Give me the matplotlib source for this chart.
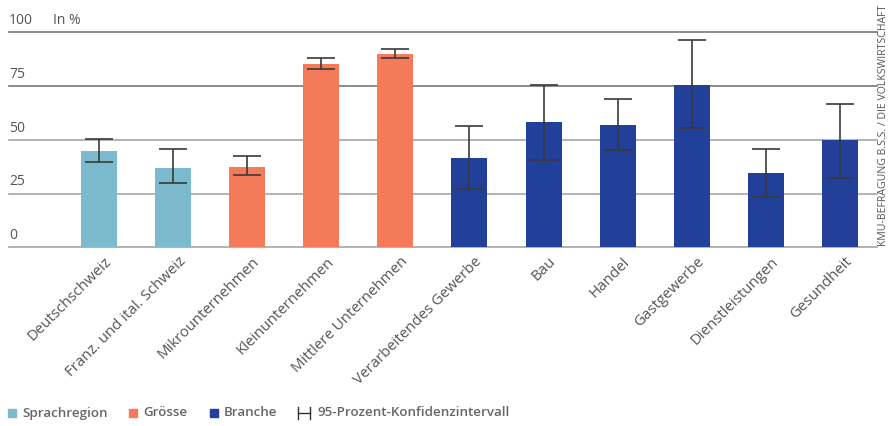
import matplotlib
matplotlib.use("Agg")
import matplotlib.pyplot as plt
import matplotlib.transforms as mtrans
from matplotlib.patches import Rectangle
from matplotlib.lines import Line2D

categories = ["Deutschschweiz", "Franz. und ital. Schweiz", "Mikrounternehmen",
              "Kleinunternehmen", "Mittlere Unternehmen", "Verarbeitendes Gewerbe",
              "Bau", "Handel", "Gastgewerbe", "Dienstleistungen", "Gesundheit"]
values = [45.0, 37.0, 37.5, 85.2, 89.9, 41.7, 58.1, 56.7, 75.4, 34.7, 49.7]
ci_low = [39.7, 29.9, 33.5, 82.7, 87.9, 27.2, 40.6, 45.3, 55.7, 23.6, 32.4]
ci_high = [50.3, 45.6, 42.5, 88.0, 92.2, 56.4, 75.5, 69.0, 96.3, 45.6, 66.8]
groups = ["Sprachregion", "Sprachregion", "Grösse", "Grösse", "Grösse",
          "Branche", "Branche", "Branche", "Branche", "Branche", "Branche"]
group_names = ["Sprachregion", "Grösse", "Branche"]
yticks = [0, 25, 50, 75, 100]

colors = {"Sprachregion": "#7bbbcd", "Grösse": "#f47a5a", "Branche": "#223f99"}
text_col = "#555555"
plt.rcParams['font.family'] = ['Open Sans', 'DejaVu Sans']

fig = plt.figure(figsize=(8.91, 4.26), dpi=100)
W, H = 891, 426
ax = fig.add_axes([9 / W, (H - 247.3) / H, (877 - 9) / W, (247.3 - 32.3) / H])

x = list(range(len(categories)))
ax.bar(x, values, width=0.486, color=[colors[g] for g in groups], zorder=3)
yerr = [[v - l for v, l in zip(values, ci_low)], [h - v for v, h in zip(values, ci_high)]]
ax.errorbar(x, values, yerr=yerr, fmt='none', ecolor='#3a3a3a', elinewidth=1.2,
            capsize=9.8, capthick=1.2, zorder=4)

ax.set_xlim(-1.215, 10.5)
ax.set_ylim(0, 100)
for t in yticks:
    c = '#777777' if t >= 75 else '#a5a5a5'
    ax.axhline(t, color=c, lw=1.2, zorder=1, clip_on=False)
    ax.annotate(str(t), xy=(0, t), xycoords=ax.get_yaxis_transform(),
                xytext=(0, 3), textcoords='offset points', ha='left', va='bottom',
                fontsize=10, color=text_col)
ax.annotate("In %", xy=(44 / 868, 100), xycoords=ax.get_yaxis_transform(),
            xytext=(0, 3), textcoords='offset points', ha='left', va='bottom',
            fontsize=10, color=text_col)

ax.set_yticks([])
ax.set_xticks(x)
ax.set_xticklabels(categories, rotation=45, ha='right', va='top',
                   rotation_mode='anchor', fontsize=10.8, color=text_col)
ax.tick_params(axis='x', length=0, pad=5)
offset = mtrans.ScaledTranslation(5 / 100, 0, fig.dpi_scale_trans)
for lbl in ax.get_xticklabels():
    lbl.set_transform(lbl.get_transform() + offset)
for s in ax.spines.values():
    s.set_visible(False)

fig.text(884 / W, (H - 125) / H, "KMU-BEFRAGUNG B.S.S. / DIE VOLKSWIRTSCHAFT",
         rotation=90, ha='center', va='center', fontsize=7.6, color=text_col)

# legend
ly = (H - 413) / H
sq = 8
for gname, sx in zip(group_names, [8, 129, 210]):
    fig.patches.append(Rectangle((sx / W, (H - 417) / H), sq / W, sq / H,
                                 transform=fig.transFigure, color=colors[gname]))
    fig.text((sx + 14) / W, ly, gname, ha='left', va='center', fontsize=9.6,
             fontweight='semibold', color='#666666')
lx0, lx1 = 298 / W, 310 / W
fig.lines.append(Line2D([lx0, lx0], [(H - 419) / H, (H - 407) / H], transform=fig.transFigure, color='#333333', lw=1))
fig.lines.append(Line2D([lx0, lx1], [ly, ly], transform=fig.transFigure, color='#333333', lw=1))
fig.lines.append(Line2D([lx1, lx1], [(H - 419) / H, (H - 407) / H], transform=fig.transFigure, color='#333333', lw=1))
fig.text(318 / W, ly, "95-Prozent-Konfidenzintervall", ha='left', va='center', fontsize=9.6,
         fontweight='semibold', color='#666666')

fig.savefig("out.png", dpi=100)
